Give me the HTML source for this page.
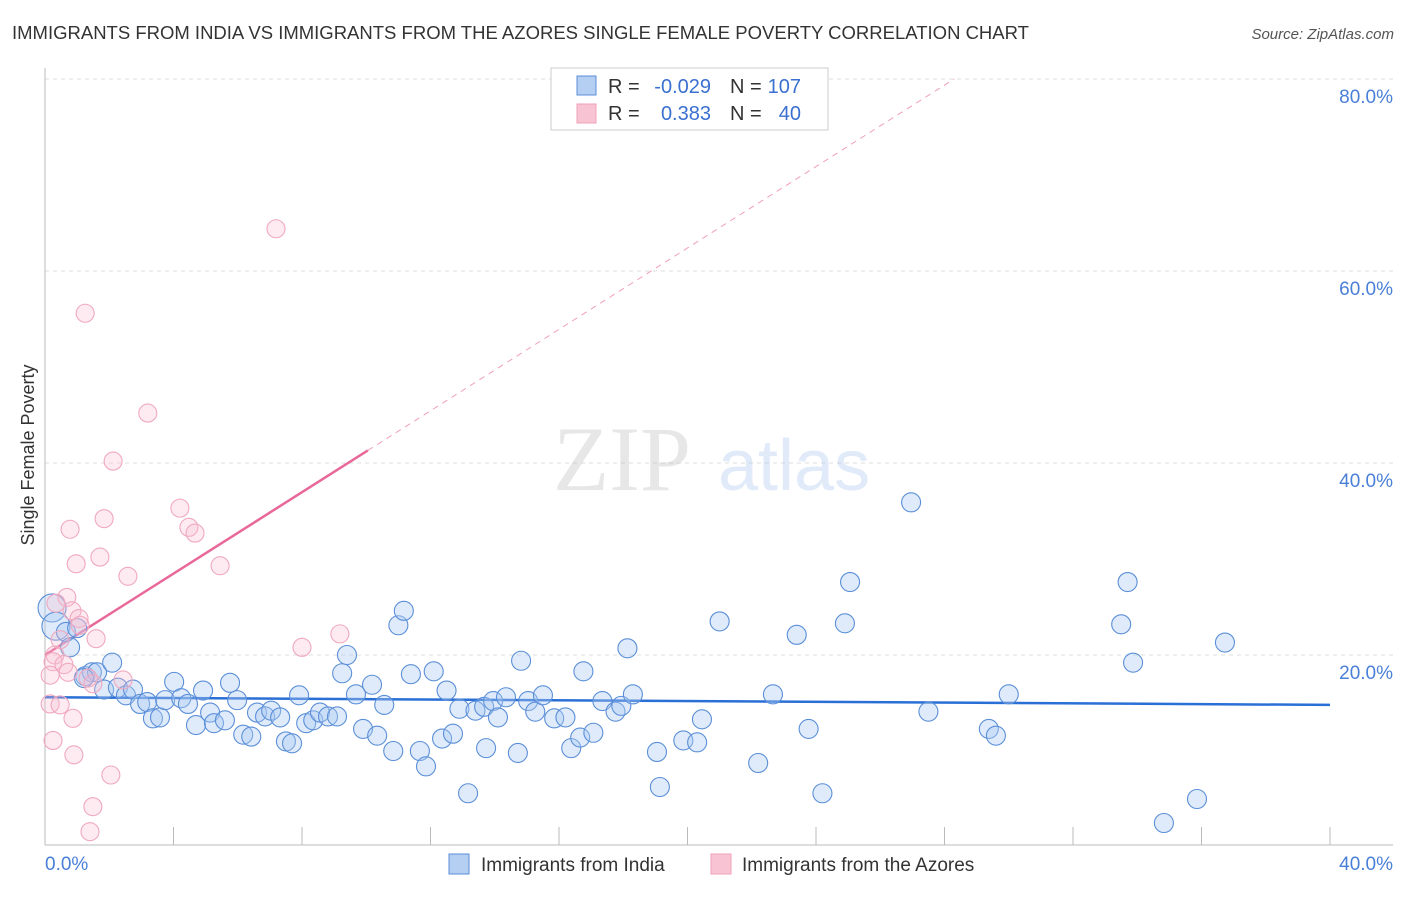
<!DOCTYPE html>
<html><head><meta charset="utf-8"><style>
body{margin:0;background:#fff;font-family:"Liberation Sans",sans-serif}
</style></head><body>
<svg width="1406" height="892" xmlns="http://www.w3.org/2000/svg" font-family="Liberation Sans, sans-serif">
<text x="12" y="39" font-size="18.5" fill="#333">IMMIGRANTS FROM INDIA VS IMMIGRANTS FROM THE AZORES SINGLE FEMALE POVERTY CORRELATION CHART</text>
<text x="1394" y="39" font-size="15" fill="#555" text-anchor="end" font-style="italic">Source: ZipAtlas.com</text>
<text transform="translate(34,455) rotate(-90)" font-size="18" fill="#333" text-anchor="middle">Single Female Poverty</text>
<g id="grid"></g>
<g font-size="92" opacity="0.35">
<text x="553" y="490" fill="#bbb" font-family="Liberation Serif, serif">ZIP</text>
<text x="718" y="490" fill="#a8c6ee" font-size="72">atlas</text></g>
<g id="lines"></g>
<g id="pts"></g>
<g font-size="20">
<rect x="551" y="68" width="277" height="62" fill="#fff" stroke="#ccc"/>
<rect x="577" y="76" width="19" height="19" fill="#b4cff2" stroke="#5b8fd8"/>
<rect x="577" y="104" width="19" height="19" fill="#f8c4d4" stroke="#f0a0b8"/>
<text x="608" y="93" fill="#333">R =</text>
<text x="711" y="93" fill="#3a70d0" text-anchor="end">-0.029</text>
<text x="730" y="93" fill="#333">N =</text>
<text x="801" y="93" fill="#3a70d0" text-anchor="end">107</text>
<text x="608" y="120" fill="#333">R =</text>
<text x="711" y="120" fill="#3a70d0" text-anchor="end">0.383</text>
<text x="730" y="120" fill="#333">N =</text>
<text x="801" y="120" fill="#3a70d0" text-anchor="end">40</text>
</g>
<g>
<rect x="449" y="854" width="20" height="20" fill="#b4cff2" stroke="#5b8fd8"/>
<text x="481" y="871" font-size="19" fill="#333">Immigrants from India</text>
<rect x="711" y="854" width="20" height="20" fill="#f8c4d4" stroke="#f0a0b8"/>
<text x="742" y="871" font-size="19" fill="#333">Immigrants from the Azores</text>
</g>
</svg>
<script>
const yTicks=[20,40,60,80];
const xTickLabels=["0.0%","40.0%"];
const indiaX=[0.22,0.34,0.65,0.78,1.0,1.25,1.46,1.62,2.09,1.21,1.84,2.27,2.52,2.74,2.96,3.18,3.36,3.58,3.74,4.02,4.24,4.45,4.7,4.92,5.14,5.26,5.6,5.76,5.98,6.17,6.42,6.6,6.85,7.04,7.32,7.5,7.69,7.91,8.13,8.35,8.56,8.81,9.09,9.25,9.4,9.68,9.9,10.18,10.34,10.56,10.84,11.0,11.17,11.39,11.67,11.86,12.1,12.36,12.5,12.7,12.9,13.17,13.4,13.67,13.73,13.95,14.1,14.35,14.72,14.82,15.04,15.26,15.5,15.85,16.2,16.38,16.66,16.76,17.07,17.35,17.76,17.94,18.13,18.3,19.05,19.14,19.87,20.3,20.45,21.0,22.2,22.66,23.4,23.77,24.2,24.9,25.06,26.96,27.5,29.38,29.6,30.0,33.5,33.7,33.87,34.83,35.86,36.73];
const indiaY=[24.9,23.0,22.4,20.8,22.8,17.8,18.2,18.2,19.2,17.6,16.4,16.6,15.8,16.4,14.9,15.1,13.4,13.5,15.3,17.2,15.5,14.9,12.7,16.3,14.0,12.9,13.2,17.1,15.3,11.7,11.5,14.0,13.6,14.2,13.5,11.0,10.8,15.8,12.9,13.2,14.0,13.6,13.6,18.1,20.0,15.9,12.3,16.9,11.6,14.8,10.0,23.1,24.6,18.0,10.0,8.4,18.3,11.3,16.3,11.8,14.4,5.6,14.2,14.6,10.3,15.2,13.5,15.6,9.8,19.4,15.2,14.1,15.8,13.4,13.5,10.3,11.4,18.3,11.9,15.2,14.1,14.7,20.7,15.9,9.9,6.25,11.1,10.9,13.3,23.5,8.75,15.9,22.1,12.3,5.6,23.3,27.6,35.9,14.1,12.3,11.6,15.9,23.2,27.6,19.2,2.5,5.0,21.3];
const azoresX=[7.19,1.25,3.2,2.12,4.2,4.48,4.67,1.84,0.78,1.71,0.97,2.58,5.45,0.68,0.34,0.84,1.06,1.09,1.59,9.18,8.0,0.47,0.31,0.25,0.59,0.72,0.16,1.34,1.49,2.43,0.16,0.47,0.87,0.25,0.9,2.05,1.49,1.4];
const azoresY=[64.4,55.6,45.2,40.2,35.3,33.3,32.7,34.2,33.1,30.2,29.5,28.2,29.3,26.0,25.4,24.6,23.8,23.1,21.7,22.2,20.8,21.6,20.0,19.3,19.0,18.2,17.9,17.6,17.0,17.4,14.9,14.8,13.4,11.1,9.6,7.5,4.2,1.6];
const indiaTrend=[15.6,14.8];
const azoresTrend=[20.0,2.12];
const X=v=>45+v*32.125, Y=v=>847-v*9.6;
const NS="http://www.w3.org/2000/svg";
function mk(t,a,p){const e=document.createElementNS(NS,t);for(const k in a)e.setAttribute(k,a[k]);p.appendChild(e);return e;}
const grid=document.getElementById('grid');
yTicks.forEach(t=>{
 const l=mk('line',{x1:45,x2:1393,y1:Y(t),y2:Y(t),stroke:'#ddd','stroke-dasharray':'4,4'},grid);
 
 
 const tx=mk('text',{x:1393,y:Y(t)+24,'font-size':19,fill:'#4a7fd8','text-anchor':'end'},grid);
 tx.textContent=t.toFixed(1)+'%';
 
 
});
const ax=mk('line',{x1:45,x2:1393,y1:845,y2:845,stroke:'#bbb'},grid);


const ay=mk('line',{x1:45,x2:45,y1:68,y2:845,stroke:'#bbb'},grid);


for(let i=1;i<=10;i++){const tk=mk('line',{x1:X(i*4),x2:X(i*4),y1:827,y2:845,stroke:'#bbb'},grid);
 
 }
const x0=mk('text',{x:45,y:870,'font-size':19,fill:'#4a7fd8'},grid);x0.textContent=xTickLabels[0];


const x1=mk('text',{x:1393,y:870,'font-size':19,fill:'#4a7fd8','text-anchor':'end'},grid);x1.textContent=xTickLabels[1];


const pts=document.getElementById('pts');
indiaX.forEach((x,i)=>{const c=mk('circle',{cx:X(x),cy:Y(indiaY[i]),r:i<2?14:9.5,fill:'rgba(170,202,242,0.38)',stroke:'#5b8fd8','stroke-width':1.1},pts);
 
 });
azoresX.forEach((x,i)=>{const c=mk('circle',{cx:X(x),cy:Y(azoresY[i]),r:9,fill:'rgba(248,190,208,0.3)',stroke:'#f0a8bf','stroke-width':1.1},pts);
 
 });
const lines=document.getElementById('lines');
const bl=mk('line',{x1:X(0),y1:Y(indiaTrend[0]),x2:X(40),y2:Y(indiaTrend[1]),stroke:'#2a6fd6','stroke-width':2.5},lines);


const xe=10.05, xd=(80-azoresTrend[0])/azoresTrend[1];
const pl=mk('line',{x1:X(0),y1:Y(azoresTrend[0]),x2:X(xe),y2:Y(azoresTrend[0]+azoresTrend[1]*xe),stroke:'#e8689a','stroke-width':2.5},lines);


const pd=mk('line',{x1:X(xe),y1:Y(azoresTrend[0]+azoresTrend[1]*xe),x2:X(xd),y2:Y(80),stroke:'#f0a0b8','stroke-width':1,'stroke-dasharray':'6,5'},lines);


</script>
</body></html>
